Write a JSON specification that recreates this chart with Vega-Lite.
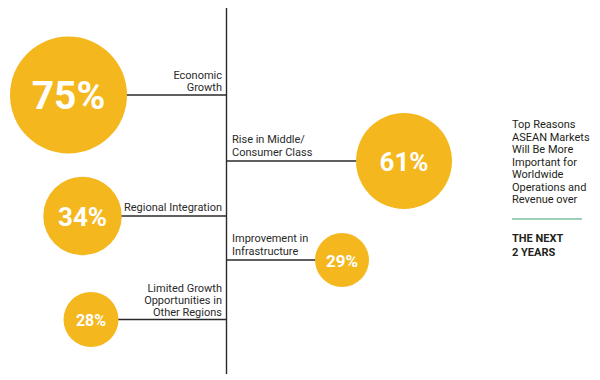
{
  "$schema": "https://vega.github.io/schema/vega-lite/v6.json",
  "width": 600,
  "height": 380,
  "autosize": {"type": "fit", "contains": "padding"},
  "padding": 0,
  "background": "white",
  "config": {"view": {"stroke": null}, "font": "Roboto"},
  "layer": [
    {
      "data": {"values": [
        {"reason": "Economic Growth", "label": ["Economic", "Growth"], "pct": 0.75, "side": "left"},
        {"reason": "Rise in Middle/Consumer Class", "label": ["Rise in Middle/", "Consumer Class"], "pct": 0.61, "side": "right"},
        {"reason": "Regional Integration", "label": ["Regional Integration"], "pct": 0.34, "side": "left"},
        {"reason": "Improvement in Infrastructure", "label": ["Improvement in", "Infrastructure"], "pct": 0.29, "side": "right"},
        {"reason": "Limited Growth Opportunities in Other Regions", "label": ["Limited Growth", "Opportunities in", "Other Regions"], "pct": 0.28, "side": "left"}
      ]},
      "encoding": {
        "x": {"field": "pct", "type": "quantitative", "axis": null,
              "scale": {"domain": [0, 0.28, 0.29, 0.34, 0.61, 0.75, 1], "range": [226.5, 91, 342, 82.5, 404, 68.5, 226.5], "nice": false, "zero": false}},
        "y": {"field": "pct", "type": "quantitative", "axis": null,
              "scale": {"domain": [0, 0.28, 0.29, 0.34, 0.61, 0.75, 1], "range": [374, 319.5, 260, 216, 161, 95, 8], "nice": false, "zero": false}}
      },
      "layer": [
        {"mark": {"type": "rule", "color": "#2a2a2a", "strokeWidth": 1.4}, "encoding": {"x2": {"datum": 0}}},
        {"mark": {"type": "circle", "opacity": 1, "color": "#F5B71E"},
         "encoding": {"size": {"field": "pct", "type": "quantitative", "legend": null,
                                "scale": {"domain": [0.28, 0.29, 0.34, 0.61, 0.75], "range": [3025, 2916, 6162, 9216, 13689], "zero": false}}}},
        {"mark": {"type": "text", "color": "white", "fontWeight": "bold", "baseline": "middle", "align": "center", "dy": 1.5, "font": "Roboto"},
         "encoding": {"text": {"field": "pct", "type": "quantitative", "format": ".0%"},
                      "size": {"field": "pct", "type": "quantitative", "legend": null,
                               "scale": {"domain": [0.28, 0.29, 0.34, 0.61, 0.75], "range": [16, 17, 26, 26, 39], "zero": false}}}},
        {"transform": [{"filter": "datum.side === 'left' && length(datum.label) === 1"}],
         "mark": {"type": "text", "align": "right", "baseline": "alphabetic", "dx": -4.5, "dy": -5, "fontSize": 11, "lineHeight": 12, "color": "#2a2a2a"},
         "encoding": {"x": {"datum": 0, "type": "quantitative"}, "text": {"field": "label", "type": "nominal"}}},
        {"transform": [{"filter": "datum.side === 'left' && length(datum.label) === 2"}],
         "mark": {"type": "text", "align": "right", "baseline": "alphabetic", "dx": -4.5, "dy": -16, "fontSize": 11, "lineHeight": 12, "color": "#2a2a2a"},
         "encoding": {"x": {"datum": 0, "type": "quantitative"}, "text": {"field": "label", "type": "nominal"}}},
        {"transform": [{"filter": "datum.side === 'left' && length(datum.label) === 3"}],
         "mark": {"type": "text", "align": "right", "baseline": "alphabetic", "dx": -4.5, "dy": -28, "fontSize": 11, "lineHeight": 12, "color": "#2a2a2a"},
         "encoding": {"x": {"datum": 0, "type": "quantitative"}, "text": {"field": "label", "type": "nominal"}}},
        {"transform": [{"filter": "datum.side === 'right'"}],
         "mark": {"type": "text", "align": "left", "baseline": "alphabetic", "dx": 5.5, "dy": -18.5, "fontSize": 11, "lineHeight": 13, "color": "#2a2a2a"},
         "encoding": {"x": {"datum": 0, "type": "quantitative"}, "text": {"field": "label", "type": "nominal"}}}
      ],
      "resolve": {"scale": {"size": "independent"}}
    },
    {
      "data": {"values": [{"note": "annotation"}]},
      "encoding": {
        "x": {"datum": 512, "type": "quantitative", "axis": null, "scale": {"domain": [0, 600], "range": [0, 600], "nice": false, "zero": false}}
      },
      "layer": [
        {"mark": {"type": "rule", "color": "#2a2a2a", "strokeWidth": 1.4},
         "encoding": {"x": {"datum": 226.5, "type": "quantitative"},
                      "y": {"datum": 8, "type": "quantitative", "axis": null, "scale": {"domain": [0, 380], "range": [0, 380], "nice": false, "zero": false}},
                      "y2": {"datum": 374}}},
        {"mark": {"type": "text", "align": "left", "baseline": "top", "fontSize": 11, "lineHeight": 12.5, "color": "#231f20"},
         "encoding": {"y": {"datum": 119, "type": "quantitative"},
                      "text": {"value": ["Top Reasons", "ASEAN Markets", "Will Be More", "Important for", "Worldwide", "Operations and", "Revenue over"]}}},
        {"mark": {"type": "rule", "color": "#7DBF9F", "strokeWidth": 1.5},
         "encoding": {"x2": {"datum": 582}, "y": {"datum": 219, "type": "quantitative"}}},
        {"mark": {"type": "text", "align": "left", "baseline": "top", "fontSize": 11, "fontWeight": "bold", "lineHeight": 14, "color": "#231f20"},
         "encoding": {"y": {"datum": 233, "type": "quantitative"},
                      "text": {"value": ["THE NEXT", "2 YEARS"]}}}
      ]
    }
  ],
  "resolve": {"scale": {"x": "independent", "y": "independent"}}
}
